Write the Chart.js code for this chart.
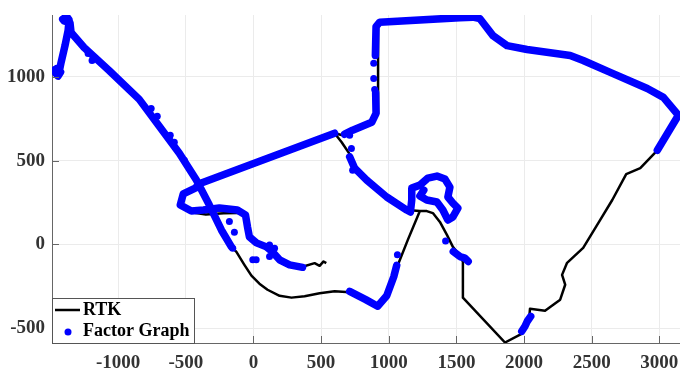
<!DOCTYPE html>
<html>
<head>
<meta charset="utf-8">
<script src="https://cdn.jsdelivr.net/npm/chart.js@4"></script>
<style>
  html, body { margin: 0; padding: 0; background: #fff; overflow: hidden; }
  #wrap { width: 680px; height: 373px; overflow: hidden; }
</style>
</head>
<body>
<!-- canvas is 5px wider than the page: Chart.js keeps a small gap right of the plot, the cut hides it -->
<div id="wrap"><canvas id="c" width="685" height="373"></canvas></div>
<script>
// axis ranges and ticks
const xMin = -1489, xMax = 3160;
const yMin = -589, yMax = 1370;
const xTicks = [-1000, -500, 0, 500, 1000, 1500, 2000, 2500, 3000];
const yTicks = [-500, 0, 500, 1000];

// RTK trajectory (null = break between pieces)
const rtkX = [-1437, -1422, -1393, -1370, -1363, -1356, -1348, -1252, -1067, -844, -696, -548, -422, -326, -237, -163,
  -126, -67, -15, 44, 104, 193, 281, 378, 489, 600, 711, 830, 918, 985, 1037, 1059, 1141, 1230, 1281, 1326, 1378,
  1430, 1474, 1526, 1548, 1548, 1859, 1985, 2037, 2044, 2155, 2267, 2304, 2281, 2318, 2437, 2563, 2652, 2755, 2859,
  2985, 3141, 3030, 2911, 2637, 2437, 2341, 2022, 1874, 1770, 1674, 1622, 1526, 940, 921, 921, 874, 733, 659, 600,
  -400, -430, -519, -541, -459, -352, -220, -119, -59, -44, -30, 22, 96, 141, 193, 267, 363, 452, 489, 518, 538,
  null,
  600, 652, 711, 748, 837, 985, 1133, 1230];
const rtkY = [1027, 1086, 1187, 1277, 1342, 1324, 1265, 1176, 1039, 866, 705, 545, 384, 235, 86, -15,
  -45, -122, -187, -235, -271, -307, -318, -310, -292, -280, -286, -330, -369, -307, -193, -140, 27, 199, 199, 187, 134,
  57, -15, -68, -104, -318, -586, -533, -449, -384, -396, -330, -241, -182, -110, -21, 146, 265, 420, 455,
  562, 771, 878, 931, 1027, 1098, 1128, 1164, 1187, 1247, 1348, 1357, 1354, 1327, 1301, 783, 729, 682, 652, 664,
  362, 336, 301, 235, 192, 178, 186, 188, 170, 104, 45, 9, -15, -45, -92, -122, -134, -112, -128, -102, -112,
  null,
  664, 610, 539, 455, 384, 283, 205, 199];

// Factor Graph estimate (null = gap in estimate)
const fgX = [-1460, -1475, -1450, -1425, -1445, -1437, -1422, -1393, -1370, -1363, -1380, -1410, -1400, -1356, -1348,
  -1252, -1067, -844, -696, -548, -422, -326, -237, -163,
  null,
  600, -400, -430, -519, -541, -459, -370, -252, -119, -59, -44, -30, 22, 96, 141, 193, 267, 363,
  null,
  674, 733, 874, 906, 903,
  null,
  901, 906, 933, 1526, 1622, 1674, 1770, 1874, 2022, 2341, 2437, 2637, 2911, 3030, 3141, 2985,
  null,
  711, 748, 837, 985, 1133, 1160, 1170, 1170, 1230, 1289, 1356, 1415, 1452, 1437, 1474, 1511, 1474, 1437, 1400, 1356,
  1281, 1230, 1259,
  null,
  711, 830, 918, 985, 1037, 1059,
  null,
  1477, 1526, 1563, 1587,
  null,
  1983, 2007, 2024, 2049];
const fgY = [1020, 1040, 1052, 1030, 1005, 1027, 1086, 1187, 1277, 1342, 1360, 1345, 1335, 1324, 1265,
  1176, 1039, 866, 705, 545, 384, 235, 86, -15,
  null,
  664, 362, 336, 301, 235, 199, 205, 217, 205, 176, 104, 45, 9, -15, -45, -92, -122, -137,
  null,
  658, 682, 729, 783, 905,
  null,
  1128, 1301, 1327, 1354, 1357, 1348, 1247, 1187, 1164, 1128, 1098, 1027, 931, 878, 771, 562,
  null,
  523, 455, 384, 283, 205, 193, 265, 336, 354, 396, 408, 390, 342, 283, 247, 217, 164, 146, 205, 253,
  265, 289, 324,
  null,
  -281, -330, -369, -307, -193, -125,
  null,
  -43, -73, -82, -102,
  null,
  -519, -489, -459, -430];

// stray Factor Graph points
const fgDotX = [-1193, -1222, -756, -711, -615, -585, -511, -178, -141, -153, -5, 119, 156, 119, 20, 711, 724, 733,
  889, 889, 896, 1064, 1420];
const fgDotY = [1098, 1140, 812, 765, 652, 610, 503, 136, 72, -23, -92, -3, -23, -73, -92, 652, 573, 443,
  1082, 991, 925, -62, 20];

const toPoints = (xs, ys) => xs.map((x, i) => (x === null ? { x: null, y: null } : { x: x, y: ys[i] }));

const FONT = { family: "'Liberation Serif', 'Times New Roman', serif", size: 19, weight: 'bold' };
const AXIS = '#666666';

// MATLAB-like inward tick marks
const inwardTicks = {
  id: 'inwardTicks',
  afterDatasetsDraw(chart) {
    const { ctx, chartArea: a, scales } = chart;
    ctx.save();
    ctx.strokeStyle = AXIS;
    ctx.lineWidth = 1;
    ctx.beginPath();
    xTicks.forEach(v => {
      const px = Math.round(scales.x.getPixelForValue(v)) + 0.5;
      ctx.moveTo(px, a.bottom);
      ctx.lineTo(px, a.bottom - 7);
    });
    yTicks.forEach(v => {
      const py = Math.round(scales.y.getPixelForValue(v)) + 0.5;
      ctx.moveTo(a.left, py);
      ctx.lineTo(a.left + 7, py);
    });
    ctx.stroke();
    ctx.restore();
  }
};

const legendBox = {
  id: 'legendBox',
  afterDraw(chart) {
    const { ctx, chartArea: a } = chart;
    const w = 142, h = 45;
    const x0 = Math.round(a.left), y0 = Math.round(a.bottom) - h;
    ctx.save();
    ctx.fillStyle = '#fff';
    ctx.fillRect(x0, y0, w, h);
    ctx.strokeStyle = '#555';
    ctx.lineWidth = 1;
    ctx.strokeRect(x0 + 0.5, y0 + 0.5, w, h);
    ctx.strokeStyle = '#000';
    ctx.lineWidth = 2.5;
    ctx.beginPath();
    ctx.moveTo(x0 + 3, y0 + 12);
    ctx.lineTo(x0 + 28, y0 + 12);
    ctx.stroke();
    ctx.fillStyle = '#0000ff';
    ctx.beginPath();
    ctx.arc(x0 + 16, y0 + 34, 3.5, 0, Math.PI * 2);
    ctx.fill();
    ctx.fillStyle = '#000';
    ctx.font = `bold 18px ${FONT.family}`;
    ctx.textBaseline = 'middle';
    ctx.fillText('RTK', x0 + 31, y0 + 12);
    ctx.fillText('Factor Graph', x0 + 31, y0 + 33);
    ctx.restore();
  }
};

new Chart(document.getElementById('c').getContext('2d'), {
  type: 'scatter',
  data: {
    datasets: [
      { label: 'RTK', data: toPoints(rtkX, rtkY), showLine: true, spanGaps: false, borderColor: '#000',
        borderWidth: 2.5, borderJoinStyle: 'round', pointRadius: 0, order: 2 },
      { label: 'Factor Graph', data: toPoints(fgX, fgY), showLine: true, spanGaps: false, borderColor: '#0000ff',
        borderWidth: 7.5, borderCapStyle: 'round', borderJoinStyle: 'round', pointRadius: 0, order: 1 },
      { label: 'Factor Graph points', data: toPoints(fgDotX, fgDotY), showLine: false, pointRadius: 3.5,
        pointBorderWidth: 0, backgroundColor: '#0000ff', order: 0 }
    ]
  },
  options: {
    responsive: false,
    animation: false,
    devicePixelRatio: 1,
    events: [],
    layout: { padding: { top: 15, right: 0, left: 0, bottom: 0 } },
    plugins: { legend: { display: false }, tooltip: { enabled: false } },
    scales: {
      x: {
        type: 'linear', min: xMin, max: xMax,
        afterBuildTicks: s => { s.ticks = xTicks.map(v => ({ value: v })); },
        afterFit: s => { s.height = 30; s.paddingLeft = 0; s.paddingRight = 0; },
        grid: { color: '#ebebeb', drawTicks: false },
        border: { color: AXIS, width: 1 },
        ticks: { font: FONT, color: '#333', padding: 9, maxRotation: 0, autoSkip: false, callback: v => String(v) }
      },
      y: {
        type: 'linear', min: yMin, max: yMax,
        afterBuildTicks: s => { s.ticks = yTicks.map(v => ({ value: v })); },
        afterFit: s => { s.width = 52; s.paddingTop = 0; s.paddingBottom = 0; },
        grid: { color: '#ebebeb', drawTicks: false },
        border: { color: AXIS, width: 1 },
        ticks: { font: FONT, color: '#333', padding: 7, autoSkip: false, callback: v => String(v) }
      }
    }
  },
  plugins: [inwardTicks, legendBox]
});
</script>
</body>
</html>
